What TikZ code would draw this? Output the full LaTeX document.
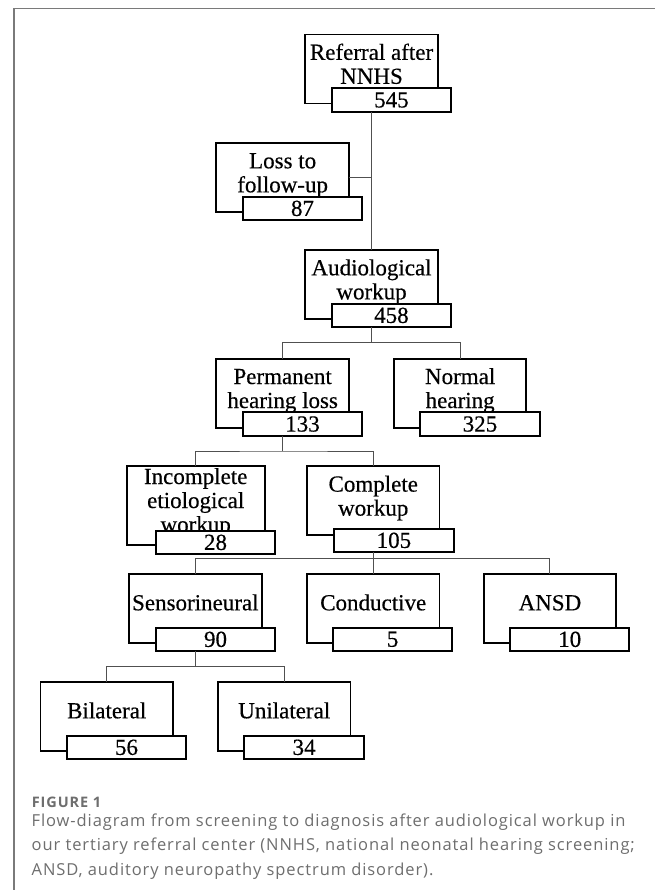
\documentclass[tikz,border=0pt]{standalone}
\usepackage{fontspec}
\setmainfont[FakeBold=0.4]{Liberation Serif}
\newfontfamily\capfont[LetterSpace=5.5]{Open Sans}
\newfontfamily\capfontfig[LetterSpace=6]{Open Sans}
\newcommand\diafont{\fontsize{23}{24}\selectfont}
\definecolor{framegray}{HTML}{7A7A7A}
\definecolor{capgray}{HTML}{6E6E6E}
\definecolor{conngray}{HTML}{505050}
\begin{document}
\begin{tikzpicture}[x=1pt,y=-1pt,
  mainbox/.style={draw=black, line width=1.9pt, minimum width=132.5pt, minimum height=69pt, anchor=north west, inner sep=0pt, outer sep=0pt},
  numbox/.style={draw=black, line width=1.9pt, fill=white, minimum width=119.4pt, minimum height=23.3pt, anchor=north west, inner sep=0pt, outer sep=0pt, font=\diafont},
  lbl/.style={anchor=north, inner sep=0pt, outer sep=0pt, align=center, font=\diafont},
  conn/.style={draw=conngray, line width=1pt},
  capline/.style={anchor=base west, inner sep=0pt, outer sep=0pt, text=capgray, font=\capfont\fontsize{16.5}{24}\selectfont}
]
\path[use as bounding box, fill=white] (0,0) rectangle (655,890);
% panel frame
\draw[framegray, line width=1.5pt] (14,890) -- (14,8.5) -- (655,8.5);

% main boxes
\node[mainbox] (ref)  at (305.3,34.5) {};
\node[mainbox] (loss) at (216.4,143.0) {};
\node[mainbox] (aud)  at (305.3,250.0) {};
\node[mainbox] (perm) at (216.4,358.7) {};
\node[mainbox] (norm) at (393.9,358.7) {};
\node[mainbox, minimum width=138.2pt, minimum height=78.7pt] (inc) at (126.6,466.3) {};
\node[mainbox] (comp) at (307.0,466.3) {};
\node[mainbox] (sens) at (129.1,574.3) {};
\node[mainbox] (cond) at (307.0,574.3) {};
\node[mainbox] (ansd) at (483.7,574.3) {};
\node[mainbox] (bil)  at (40.5,682.3) {};
\node[mainbox] (uni)  at (218.0,682.3) {};

% labels
\node[lbl] (reft)  at ([yshift=-8.3pt]ref.north)  {\rule{0pt}{17pt}Referral after\\NNHS};
\node[lbl] (losst) at ([yshift=-8.3pt]loss.north) {\rule{0pt}{17pt}Loss to\\follow-up};
\node[lbl] (audt)  at ([yshift=-8.3pt]aud.north)  {\rule{0pt}{17pt}Audiological\\workup};
\node[lbl] (permt) at ([yshift=-8.3pt]perm.north) {\rule{0pt}{17pt}Permanent\\hearing loss};
\node[lbl] (normt) at ([yshift=-8.3pt]norm.north) {\rule{0pt}{17pt}Normal\\hearing};
\node[lbl] (inct)  at ([yshift=-0.7pt]inc.north)  {\rule{0pt}{17pt}Incomplete\\etiological\\workup};
\node[lbl] (compt) at ([yshift=-8.3pt]comp.north) {\rule{0pt}{17pt}Complete\\workup};
\node[lbl] (senst) at ([yshift=-19pt]sens.north)  {\rule{0pt}{17pt}Sensorineural};
\node[lbl] (condt) at ([yshift=-19pt]cond.north)  {\rule{0pt}{17pt}Conductive};
\node[lbl] (ansdt) at ([yshift=-19pt]ansd.north)  {\rule{0pt}{17pt}ANSD};
\node[lbl] (bilt)  at ([yshift=-19pt]bil.north)   {\rule{0pt}{17pt}Bilateral};
\node[lbl] (unit)  at ([yshift=-19pt]uni.north)   {\rule{0pt}{17pt}Unilateral};

% number boxes
\node[numbox] (n545) at (331.7,88.3)  {545};
\node[numbox] (n87)  at (242.8,196.7) {87};
\node[numbox] (n458) at (331.7,303.7) {458};
\node[numbox] (n133) at (242.8,412.4) {133};
\node[numbox] (n325) at (420.3,412.4) {325};
\node[numbox] (n28)  at (155.8,530.7) {28};
\node[numbox] (n105) at (334.2,528.7) {105};
\node[numbox] (n90)  at (155.8,627.7) {90};
\node[numbox] (n5)   at (332.9,627.7) {5};
\node[numbox] (n10)  at (510.0,627.7) {10};
\node[numbox] (n56)  at (66.8,735.7)  {56};
\node[numbox] (n34)  at (244.4,735.7) {34};

% fork points
\coordinate (fa) at (371.55,342.7);
\coordinate (fp) at (282.65,451.0);
\coordinate (fc) at (373.25,558.3);
\coordinate (fs) at (195.35,666.3);

% connectors
\draw[conn] (ref.south |- n545.south) -- (aud.north);
\draw[conn] (loss.east) -- (loss.east -| ref.south);
\draw[conn] (aud.south |- n458.south) -- (fa);
\draw[conn] (perm.north) |- (fa) -| (norm.north);
\draw[conn] (perm.south |- n133.south) -- (fp);
\draw[conn] (inc.north) |- (fp) -| (comp.north);
\draw[conn] (comp.south |- n105.south) -- (fc);
\draw[conn] (sens.north) |- (fc) -| (ansd.north);
\draw[conn] (fc) -- (cond.north);
\draw[conn] (sens.south |- n90.south) -- (fs);
\draw[conn] (bil.north) |- (fs) -| (uni.north);

% caption
\node[anchor=base west, inner sep=0pt, text=capgray, font=\capfontfig\bfseries\fontsize{14.5}{16}\selectfont] (figlbl) at (31.7,807.3) {FIGURE 1};
\node[capline] (cap1) at (31.7,826) {Flow-diagram from screening to diagnosis after audiological workup in};
\node[capline] (cap2) at (31.7,850.5) {our tertiary referral center (NNHS, national neonatal hearing screening;};
\node[capline] (cap3) at (31.7,875) {ANSD, auditory neuropathy spectrum disorder).};
\end{tikzpicture}
\end{document}
